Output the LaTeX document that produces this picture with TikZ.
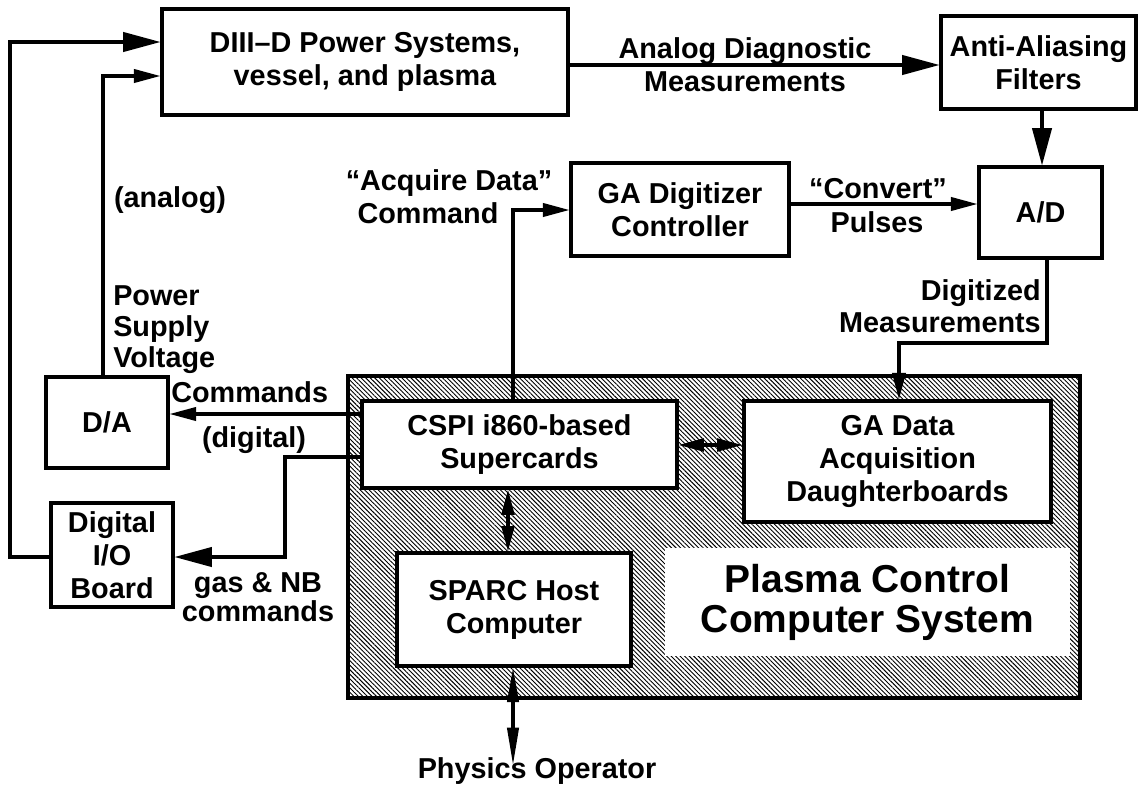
\documentclass[tikz,border=0pt]{standalone}
\usepackage{fontspec}
\setmainfont{Liberation Sans}
\usetikzlibrary{arrows.meta,patterns.meta}

\begin{document}
\begin{tikzpicture}[x=0.75pt,y=-0.75pt,
  every node/.style={font=\fontsize{21.6}{24.75}\selectfont\bfseries, inner sep=0pt},
  big/.style={font=\fontsize{29.2}{30}\selectfont\bfseries},
  blk/.style 2 args={draw, line width=2.3pt, fill=white, align=center,
    minimum width=#1*0.75pt, minimum height=#2*0.75pt},
  hatched/.style 2 args={draw, line width=2.3pt,
    pattern={Lines[angle=-45,distance=2.4pt,line width=0.7pt]},
    minimum width=#1*0.75pt, minimum height=#2*0.75pt},
  plain/.style 2 args={fill=white, align=center,
    minimum width=#1*0.75pt, minimum height=#2*0.75pt},
  wire/.style={line width=2.3pt},
  bighead/.style={-{Triangle[length=28pt,width=14.5pt]}},
  smallhead/.style={-{Triangle[length=20pt,width=10pt]}},
  bothsmall/.style={{Triangle[length=19pt,width=9.5pt]}-{Triangle[length=19pt,width=9.5pt]}},
  bothlong/.style={{Triangle[length=26pt,width=8.5pt]}-{Triangle[length=28pt,width=8.5pt]}},
]
\useasboundingbox (0,0) rectangle (1138,786);

% plasma control computer enclosure
\node[hatched={732}{322}] (pcs) at (714,537) {};
\node[plain={405}{108}, big] (pcsname) at (867.5,602) {Plasma Control\\Computer System};

% blocks
\node[blk={406}{106}] (d3d) at (365,62) {DIII--D Power Systems,\\vessel, and plasma};
\node[blk={195}{93}] (aaf) at (1038.5,62.5) {Anti-Aliasing\\Filters};
\node[blk={123}{91}] (ad) at (1040.5,212.5) {A/D};
\node[blk={218}{93}] (gadc) at (680,209.5) {GA Digitizer\\Controller};
\node[blk={315}{87}] (cspi) at (519.5,444.5) {CSPI i860-based\\Supercards};
\node[blk={307}{121}] (gada) at (897.5,461.5) {GA Data\\Acquisition\\Daughterboards};
\node[blk={234}{113}] (sparc) at (514,609.5) {SPARC Host\\Computer};
\node[blk={122}{91}] (da) at (107,422.5) {D/A};
\node[blk={122}{104}] (dio) at (112,555) {Digital\\I/O\\Board};

% free labels
\node[anchor=base] (lanalog) at (170,207) {(analog)};
\node[anchor=base west] (lpower) at (113,305) {Power};
\node[anchor=base west] (lsupply) at (113,336) {Supply};
\node[anchor=base west] (lvoltage) at (113,367) {Voltage};
\node[anchor=base west] (lcmds) at (171,402) {Commands};
\node[anchor=base] (ldigital) at (254,447) {(digital)};
\node[anchor=base] (lgas) at (258,592) {gas \& NB};
\node[anchor=base] (lgascmd) at (258,621) {commands};
\node[anchor=base] (lacq) at (449,190) {``Acquire Data''};
\node[anchor=base] (lacqcmd) at (428,223) {Command};
\node[anchor=base] (lconv) at (878,198) {``Convert''};
\node[anchor=base] (lpulses) at (877,232) {Pulses};
\node[anchor=base] (ladm1) at (745,58) {Analog Diagnostic};
\node[anchor=base] (ladm2) at (745,91) {Measurements};
\node[anchor=base east] (ldig1) at (1041,300) {Digitized};
\node[anchor=base east] (ldig2) at (1041,332) {Measurements};
\node[anchor=base] (lop) at (537,778) {Physics Operator};
\coordinate (opin) at (513,765);

% connectors
\draw[wire,bighead] (dio.west |- 0,557) -- (10,557) -- (10,42) -- (d3d.west |- 0,42);
\draw[wire,smallhead] (da.north -| 103,0) -- (103,76) -- (d3d.west |- 0,76);
\draw[wire,bighead] (d3d.east |- 0,65) -- (aaf.west |- 0,65);
\draw[wire,bighead] (aaf.south -| 1042,0) -- (ad.north -| 1042,0);
\draw[wire,smallhead] (gadc.east |- 0,204) -- (ad.west |- 0,204);
\draw[wire,smallhead] (cspi.north -| 513,0) -- (513,210) -- (gadc.west |- 0,210);
\draw[wire,smallhead] (ad.south -| 1047,0) -- (1047,343) -- (899,343) -- (gada.north -| 899,0);
\draw[wire,smallhead] (cspi.west |- 0,414) -- (da.east |- 0,414);
\draw[wire,bighead] (cspi.west |- 0,457) -- (285,457) -- (285,557) -- (dio.east |- 0,557);
\draw[wire,bothsmall] (cspi.east |- 0,445) -- (gada.west |- 0,445);
\draw[wire,bothsmall] (cspi.south -| 508,0) -- (sparc.north -| 508,0);
\draw[wire,bothlong] (sparc.south -| 513,0) -- (opin);
\end{tikzpicture}
\end{document}
